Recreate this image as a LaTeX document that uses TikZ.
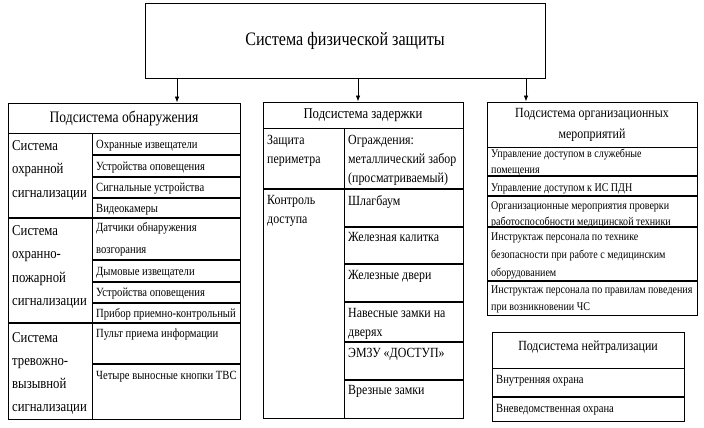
\documentclass[tikz,border=0pt]{standalone}
\usepackage{fontspec}
\setmainfont{Liberation Serif}[FakeStretch=0.85]
\usetikzlibrary{arrows.meta}
\newcommand\fsz[2]{\fontsize{#1}{#2}\selectfont}
\begin{document}
\begin{tikzpicture}[x=1pt,y=-1pt,
  frame/.style={draw=black,line width=0.9pt},
  hdr/.style={draw=black,line width=0.9pt,inner sep=0pt,align=center},
  inl/.style={draw=black,line width=1.1pt},
  sep/.style={draw=black,line width=1.6pt},
  arr/.style={draw=black,line width=0.8pt,-{Latex[length=6pt,width=4.5pt]}},
  tL/.style={anchor=north west,inner sep=0pt,align=left,font=\fsz{15}{23.5}},
  tR/.style={anchor=north west,inner sep=0pt,align=left,font=\fsz{12.5}{22}},
  tM/.style={anchor=north west,inner sep=0pt,align=left,font=\fsz{14}{19}},
  tO/.style={anchor=north west,inner sep=0pt,align=left,font=\fsz{11.8}{16}},
  tN/.style={anchor=north west,inner sep=0pt,align=left,font=\fsz{12.5}{16}}]
\useasboundingbox (0,0) rectangle (704,428);
\fill[white] (0,0) rectangle (704,428);

% top
\node[hdr,minimum width=400pt,minimum height=75pt,font=\fsz{19}{22}] (top) at (345,40.5) {Система физической защиты};

% headers
\node[hdr,minimum width=232pt,minimum height=30pt,font=\fsz{16}{20}] (hL) at (124,118) {Подсистема обнаружения};
\node[hdr,minimum width=200pt,minimum height=26pt,font=\fsz{15}{20}] (hM) at (363,115) {Подсистема задержки};
\node[hdr,minimum width=210pt,minimum height=45pt,font=\fsz{14}{21}] (hR) at (592,124.5) {Подсистема организационных\\мероприятий};
\node[hdr,minimum width=192pt,minimum height=36pt,text height=10pt,text depth=10pt,font=\fsz{14}{18}] (hN) at (588,350) {Подсистема нейтрализации};

% arrows
\coordinate (aL) at (177,0);
\coordinate (aM) at (358,0);
\coordinate (aR) at (526,0);
\draw[arr] (top.south -| aL) -- (hL.north -| aL);
\draw[arr] (top.south -| aM) -- (hM.north -| aM);
\draw[arr] (top.south -| aR) -- (hR.north -| aR);

% left body
\draw[frame] (8,133) rectangle (240,419);
\draw[frame] (92,133) -- (92,419);
\draw[inl] (92,155) -- (240,155);
\draw[inl] (92,177) -- (240,177);
\draw[inl] (92,198) -- (240,198);
\draw[sep] (8,218) -- (240,218);
\draw[inl] (92,260) -- (240,260);
\draw[inl] (92,282) -- (240,282);
\draw[inl] (92,303) -- (240,303);
\draw[sep] (8,323) -- (240,323);
\draw[inl] (92,364) -- (240,364);

\node[tL] (l1) at (12,140) {Система\\охранной\\сигнализации};
\node[tL] (l2) at (12,225) {Система\\охранно-\\пожарной\\сигнализации};
\node[tL,font=\fsz{15}{23}] (l3) at (12,332) {Система\\тревожно-\\вызывной\\сигнализации};

\node[tR] (r1) at (96,139.7) {Охранные извещатели};
\node[tR] (r2) at (96,161.7) {Устройства оповещения};
\node[tR] (r3) at (96,182.7) {Сигнальные устройства};
\node[tR] (r4) at (96,203.7) {Видеокамеры};
\node[tR] (r5) at (96,222.7) {Датчики обнаружения\\возгорания};
\node[tR] (r6) at (96,266.7) {Дымовые извещатели};
\node[tR] (r7) at (96,287.7) {Устройства оповещения};
\node[tR] (r8) at (96,308.7) {Прибор приемно-контрольный};
\node[tR] (r9) at (96,328.7) {Пульт приема информации};
\node[tR] (r10) at (96,370.7) {Четыре выносные кнопки ТВС};

% middle body
\draw[frame] (263,128) rectangle (463,418);
\draw[frame] (344,128) -- (344,418);
\draw[sep] (263,189) -- (463,189);
\draw[sep] (344,227) -- (463,227);
\draw[inl] (344,264) -- (463,264);
\draw[sep] (344,302) -- (463,302);
\draw[sep] (344,342) -- (463,342);
\draw[sep] (344,380) -- (463,380);

\node[tM] (m1) at (267,135.4) {Защита\\периметра};
\node[tM] (m2) at (348,135.4) {Ограждения:\\металлический забор\\(просматриваемый)};
\node[tM,font=\fsz{14}{18.5}] (m3) at (267,195.4) {Контроль\\доступа};
\node[tM] (m4) at (348,195.4) {Шлагбаум};
\node[tM] (m5) at (348,232.4) {Железная калитка};
\node[tM] (m6) at (348,270.4) {Железные двери};
\node[tM] (m7) at (348,308.4) {Навесные замки на\\дверях};
\node[tM] (m8) at (348,348.4) {ЭМЗУ «ДОСТУП»};
\node[tM] (m9) at (348,385.4) {Врезные замки};

% right body
\draw[frame] (487,147) rectangle (697,315);
\draw[inl] (487,176) -- (697,176);
\draw[inl] (487,196) -- (697,196);
\draw[inl] (487,227) -- (697,227);
\draw[inl] (487,281) -- (697,281);

\node[tO,font=\fsz{11.8}{15.5}] (o1) at (491,149) {Управление доступом в служебные\\помещения};
\node[tO] (o2) at (491,183) {Управление доступом к ИС ПДН};
\node[tO] (o3) at (491,201) {Организационные мероприятия проверки\\работоспособности медицинской техники};
\node[tO,font=\fsz{11.8}{18}] (o4) at (491,233) {Инструктаж персонала по технике\\безопасности при работе с медицинским\\оборудованием};
\node[tO,font=\fsz{11.8}{17}] (o5) at (491,286) {Инструктаж персонала по правилам поведения\\при возникновении ЧС};

% neutralization body
\draw[frame] (492,368) rectangle (684,421);
\draw[inl] (492,397) -- (684,397);
\node[tN] (n1) at (496,375) {Внутренняя охрана};
\node[tN] (n2) at (496,404) {Вневедомственная охрана};
\end{tikzpicture}
\end{document}
